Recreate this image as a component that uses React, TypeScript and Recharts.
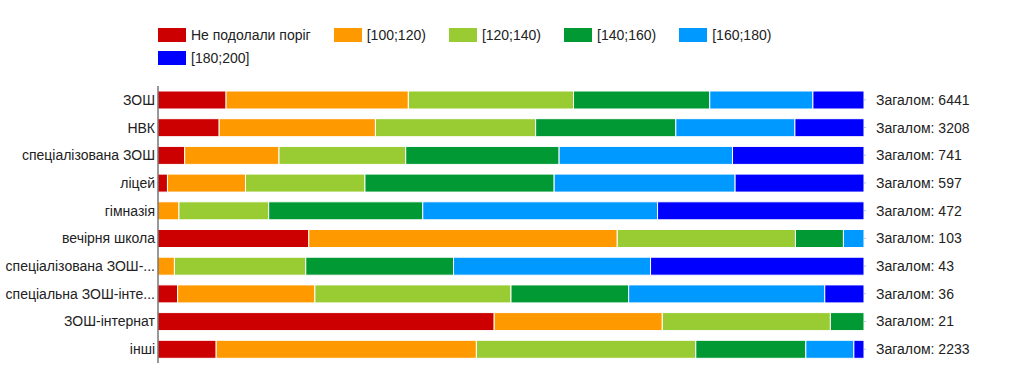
import { BarChart, Bar, XAxis, YAxis } from 'recharts';

const categories = [
  'ЗОШ',
  'НВК',
  'спеціалізована ЗОШ',
  'ліцей',
  'гімназія',
  'вечірня школа',
  'спеціалізована ЗОШ-інтернат',
  'спеціальна ЗОШ-інтернат',
  'ЗОШ-інтернат',
  'інші'
];

const notPassed = [621, 278, 28, 8, 0, 22, 0, 1, 10, 184];
const range100 = [1663, 710, 99, 66, 14, 45, 1, 7, 5, 823];
const range120 = [1507, 728, 133, 101, 60, 26, 8, 10, 5, 694];
const range140 = [1243, 637, 161, 160, 103, 7, 9, 6, 1, 348];
const range160 = [941, 541, 182, 153, 157, 3, 12, 10, 0, 152];
const range180 = [466, 314, 138, 109, 138, 0, 13, 2, 0, 32];

const totals = [6441, 3208, 741, 597, 472, 103, 43, 36, 21, 2233];

const series = [
  { key: 'notPassed', label: 'Не подолали поріг', color: '#cc0000', values: notPassed },
  { key: 'r100', label: '[100;120)', color: '#ff9900', values: range100 },
  { key: 'r120', label: '[120;140)', color: '#99cc33', values: range120 },
  { key: 'r140', label: '[140;160)', color: '#009933', values: range140 },
  { key: 'r160', label: '[160;180)', color: '#0099ff', values: range160 },
  { key: 'r180', label: '[180;200]', color: '#0000ff', values: range180 }
];

const data = categories.map((name, i) => {
  const row: Record<string, string | number> = { name };
  series.forEach((s) => {
    row[s.key] = s.values[i];
  });
  return row;
});

const FONT = '"Liberation Sans", Arial, sans-serif';
const FONT_SIZE = 14;

function shorten(label: string) {
  return label.length > 22 ? `${label.slice(0, 19)}...` : label;
}

// plain <text> ticks so Recharts does not wrap long labels
function LeftTick(props: any) {
  const { x, y, payload } = props;
  return (
    <text x={x} y={y} dy="0.355em" textAnchor="end" fill="#222" fontSize={FONT_SIZE} fontFamily={FONT}>
      {shorten(String(payload.value))}
    </text>
  );
}

function RightTick(props: any) {
  const { x, y, index } = props;
  return (
    <text x={x} y={y} dy="0.355em" textAnchor="start" fill="#222" fontSize={FONT_SIZE} fontFamily={FONT}>
      {`Загалом: ${totals[index]}`}
    </text>
  );
}

function ChartLegend() {
  return (
    <div
      style={{
        position: 'absolute',
        left: 158,
        top: 28,
        width: 720,
        display: 'flex',
        flexWrap: 'wrap',
        rowGap: 9,
        fontFamily: FONT,
        fontSize: FONT_SIZE,
        color: '#222'
      }}
    >
      {series.map((s) => (
        <div key={s.key} style={{ display: 'flex', alignItems: 'center', marginRight: 23, height: 14 }}>
          <span style={{ width: 28, height: 14, background: s.color, marginRight: 5, display: 'inline-block' }} />
          <span style={{ lineHeight: '14px' }}>{s.label}</span>
        </div>
      ))}
    </div>
  );
}

export default function App() {
  return (
    <div style={{ position: 'absolute', left: 0, top: 0, width: 1009, height: 384, background: '#fff' }}>
      <ChartLegend />
      <BarChart
        width={1009}
        height={384}
        data={data}
        layout="vertical"
        stackOffset="expand"
        barSize={18}
        margin={{ top: 86, right: 5, bottom: 21, left: 8 }}
      >
        <XAxis type="number" hide domain={[0, 1]} />
        <YAxis
          yAxisId="left"
          type="category"
          dataKey="name"
          width={150}
          axisLine={{ stroke: '#333' }}
          tickLine={false}
          tickSize={0}
          tickMargin={3}
          interval={0}
          tick={<LeftTick />}
        />
        <YAxis
          yAxisId="right"
          orientation="right"
          type="category"
          dataKey="name"
          width={140}
          axisLine={false}
          tickLine={{ stroke: '#b8c4dc' }}
          tickSize={2}
          tickMargin={10}
          interval={0}
          tick={<RightTick />}
        />
        {series.map((s) => (
          <Bar
            key={s.key}
            yAxisId="left"
            dataKey={s.key}
            stackId="a"
            fill={s.color}
            stroke="#fff"
            strokeWidth={1}
            isAnimationActive={false}
          />
        ))}
      </BarChart>
    </div>
  );
}
